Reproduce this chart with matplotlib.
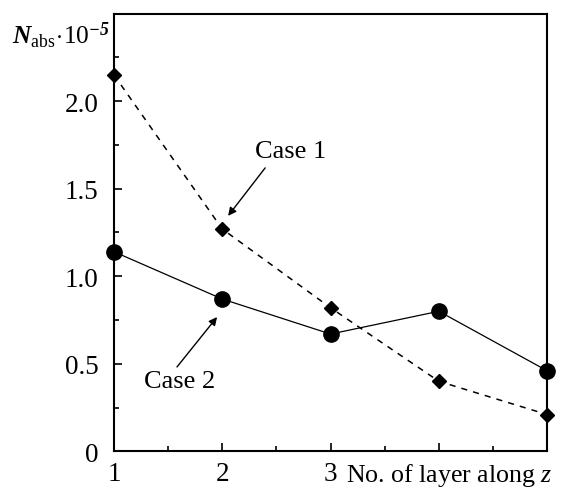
import matplotlib.pyplot as plt
from matplotlib.ticker import MultipleLocator
import matplotlib.transforms as mtransforms

plt.rcParams['font.family'] = ['Liberation Serif', 'DejaVu Serif']
plt.rcParams['mathtext.fontset'] = 'custom'
plt.rcParams['mathtext.rm'] = 'Liberation Serif'
plt.rcParams['mathtext.it'] = 'Liberation Serif:italic'
plt.rcParams['mathtext.bf'] = 'Liberation Serif:bold:italic'

# data
layers = [1, 2, 3, 4, 5]
case1 = [2.15, 1.27, 0.82, 0.40, 0.21]
case2 = [1.14, 0.87, 0.67, 0.80, 0.46]
xtick_labels = ['1', '2', '3', '', '']
ytick_values = [0, 0.5, 1.0, 1.5, 2.0]
ytick_labels = ['0', '0.5', '1.0', '1.5', '2.0']

fig = plt.figure(figsize=(5.67, 4.89), dpi=100)
ax = fig.add_axes([0.201, 0.075, 0.764, 0.895])

ax.plot(layers, case1, color='black', linestyle=(0, (4, 4)), linewidth=1.1,
        marker='D', markersize=7.5, clip_on=False, zorder=3)
ax.plot(layers, case2, color='black', linestyle='-', linewidth=0.9,
        marker='o', markersize=11, clip_on=False, zorder=3)

ax.set_xlim(1, 5)
ax.set_ylim(0, 2.5)
ax.set_xticks(layers)
ax.set_xticklabels(xtick_labels)
ax.set_yticks(ytick_values)
ax.set_yticklabels(ytick_labels)
ax.xaxis.set_minor_locator(MultipleLocator(0.5))
ax.yaxis.set_minor_locator(MultipleLocator(0.25))
ax.tick_params(which='both', direction='in', labelsize=19.5, width=1.2)
ax.tick_params(which='major', length=6)
ax.tick_params(which='minor', length=3.5)
ax.tick_params(axis='x', pad=7)
ax.tick_params(axis='y', pad=11)
for sp in ax.spines.values():
    sp.set_linewidth(1.5)

trans = mtransforms.blended_transform_factory(ax.transData, ax.transAxes)
ax.text(3.14, -0.021, 'No. of layer along $z$', transform=trans,
        ha='left', va='top', fontsize=18.6)

fig.text(0.021, 0.910, r'$\mathbf{N}_{\mathrm{abs}}\!\cdot\!10^{\mathbf{-5}}$',
         ha='left', va='baseline', fontsize=18.3)

arrow = dict(arrowstyle='-|>', color='black', lw=1.0, mutation_scale=12,
             shrinkA=0, shrinkB=0)
ax.annotate('', xy=(2.054, 1.345), xytext=(2.396, 1.619), arrowprops=arrow)
ax.annotate('', xy=(1.952, 0.767), xytext=(1.582, 0.482), arrowprops=arrow)
ax.text(2.30, 1.715, 'Case 1', fontsize=19, ha='left', va='center')
ax.text(1.61, 0.40, 'Case 2', fontsize=19, ha='center', va='center')

fig.savefig('out.png', dpi=100)
